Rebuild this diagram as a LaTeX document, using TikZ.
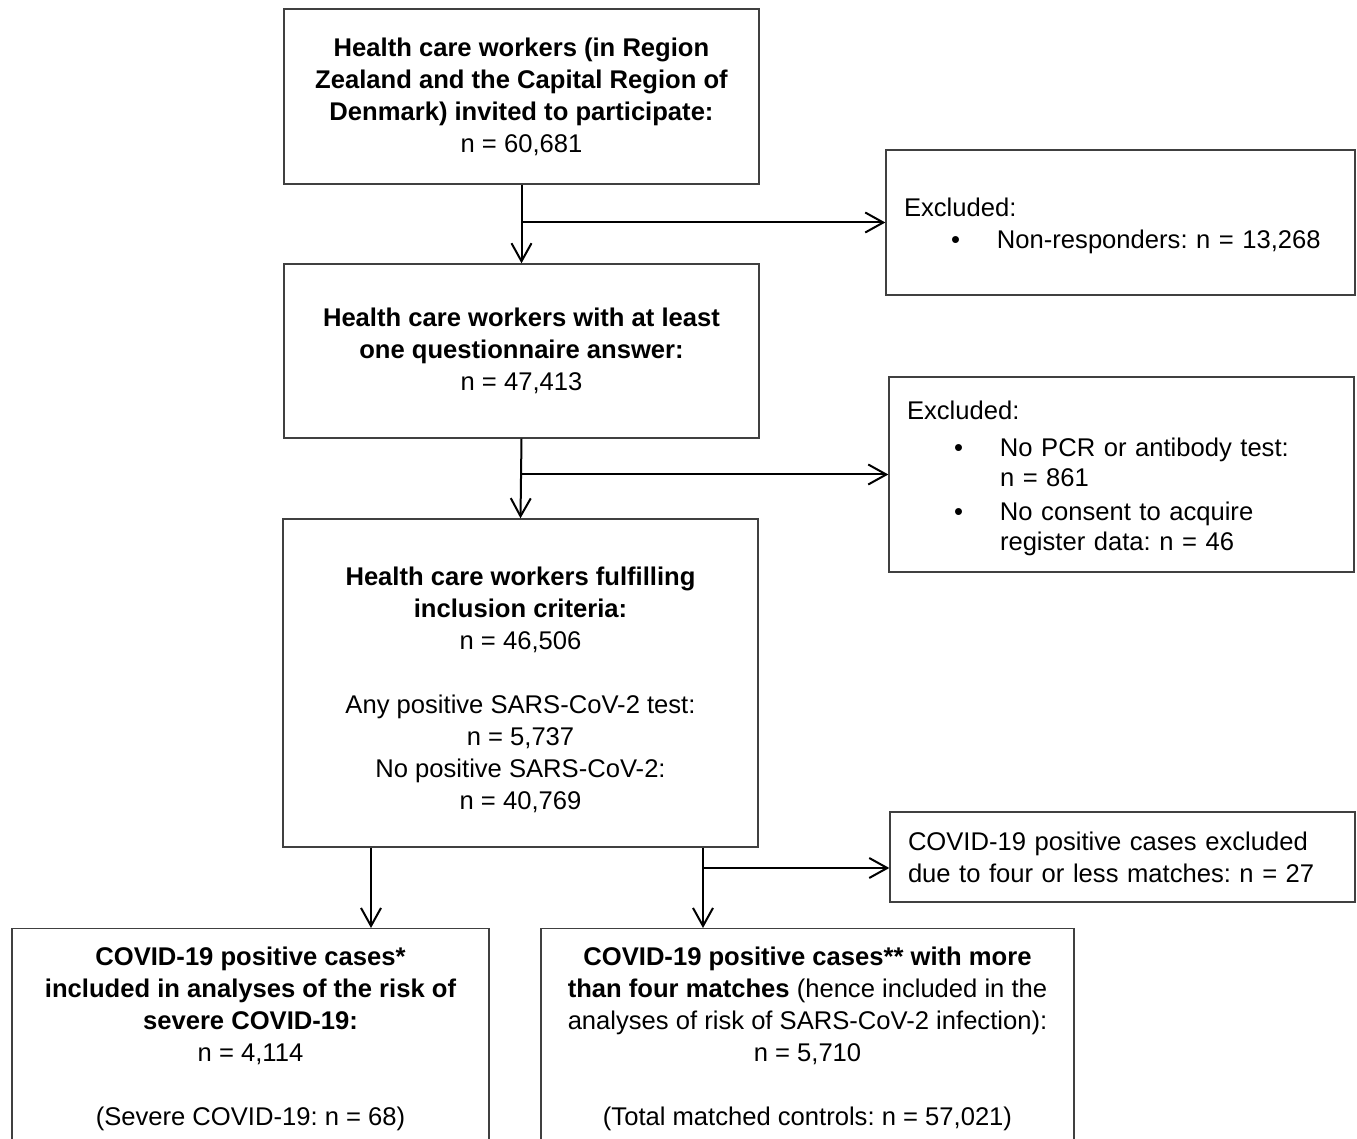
\documentclass[tikz,border=0pt]{standalone}
\usepackage{fontspec}
\setmainfont{Liberation Sans}
\usetikzlibrary{arrows.meta}
\frenchspacing
\newcommand{\itm}{\hspace*{23.5pt}\makebox[23pt][l]{\textbullet}}
\newcommand{\cont}{\hspace*{46.5pt}}
\begin{document}
\begin{tikzpicture}[x=0.5pt,y=-0.5pt,
  font=\fontsize{12.8}{16}\selectfont,
  box/.style={draw=black!75,line width=0.7pt,align=center,inner sep=0pt},
  exbox/.style={draw=black!75,line width=0.7pt,align=left,inner xsep=9pt,inner ysep=0pt},
  arr/.style={-{Straight Barb[length=9pt,width=10pt]},line width=1pt}]
\useasboundingbox (0,0) rectangle (1357,1139);
% main column
\node[box,minimum width=237.5pt,minimum height=87.5pt] (invited) at (521.5,96.5)
  {\textbf{Health care workers (in Region}\\\textbf{Zealand and the Capital Region of}\\\textbf{Denmark) invited to participate:}\\n = 60,681};
\node[box,minimum width=237.5pt,minimum height=87pt] (answer) at (521.5,351)
  {\textbf{Health care workers with at least}\\\textbf{one questionnaire answer:}\\n = 47,413};
\node[box,minimum width=237.5pt,minimum height=164pt] (included) at (520.5,683)
  {\rule{0pt}{16.3pt}\textbf{Health care workers fulfilling}\\\textbf{inclusion criteria:}\\n = 46,506\\[16pt]Any positive SARS-CoV-2 test:\\n = 5,737\\No positive SARS-CoV-2:\\n = 40,769};
% excluded
\node[exbox,minimum width=234.5pt,minimum height=72.5pt,text width=216.5pt] (nonresp) at (1120.5,222.5)
  {\rule{0pt}{12.3pt}Excluded:\\\itm Non-responders: n = 13,268};
\node[exbox,minimum width=232.5pt,minimum height=97.5pt,text width=214.5pt,
  font=\fontsize{12.8}{15}\selectfont] (notest) at (1121.5,474.5)
  {\rule{0pt}{13.3pt}Excluded:\\[3.5pt]\itm No PCR or antibody test:\\\cont n = 861\\[2pt]\itm No consent to acquire\\\cont register data: n = 46};
\node[exbox,minimum width=232.5pt,minimum height=45pt,text width=214.5pt] (fewmatch) at (1122.5,857)
  {COVID-19 positive cases excluded\\due to four or less matches: n = 27};
% bottom row
\node[box,anchor=north,minimum width=238.5pt,inner ysep=9pt,text depth=20pt] (severe) at (250.5,928)
  {\textbf{COVID-19 positive cases*}\\\textbf{included in analyses of the risk of}\\\textbf{severe COVID-19:}\\n = 4,114\\[16pt](Severe COVID-19: n = 68)};
\node[box,anchor=north,minimum width=266.5pt,inner ysep=9pt,text depth=20pt] (matched) at (807.5,928)
  {\textbf{COVID-19 positive cases** with more}\\\textbf{than four matches} (hence included in the\\analyses of risk of SARS-CoV-2 infection):\\n = 5,710\\[16pt](Total matched controls: n = 57,021)};
% connectors
\coordinate (b1) at (371,0);
\coordinate (b2) at (703,0);
\coordinate (j3) at (703,868);
\draw[arr] (invited.south) -- (answer.north);
\draw[arr] (invited.south |- nonresp.west) -- (nonresp.west);
\draw[arr] (answer.south) -- (included.north);
\draw[arr] (answer.south |- notest.west) -- (notest.west);
\draw[arr] (included.south -| b1) -- (severe.north -| b1);
\draw[arr] (included.south -| b2) -- (matched.north -| b2);
\draw[arr] (j3) -- (j3 -| fewmatch.west);
\end{tikzpicture}
\end{document}
